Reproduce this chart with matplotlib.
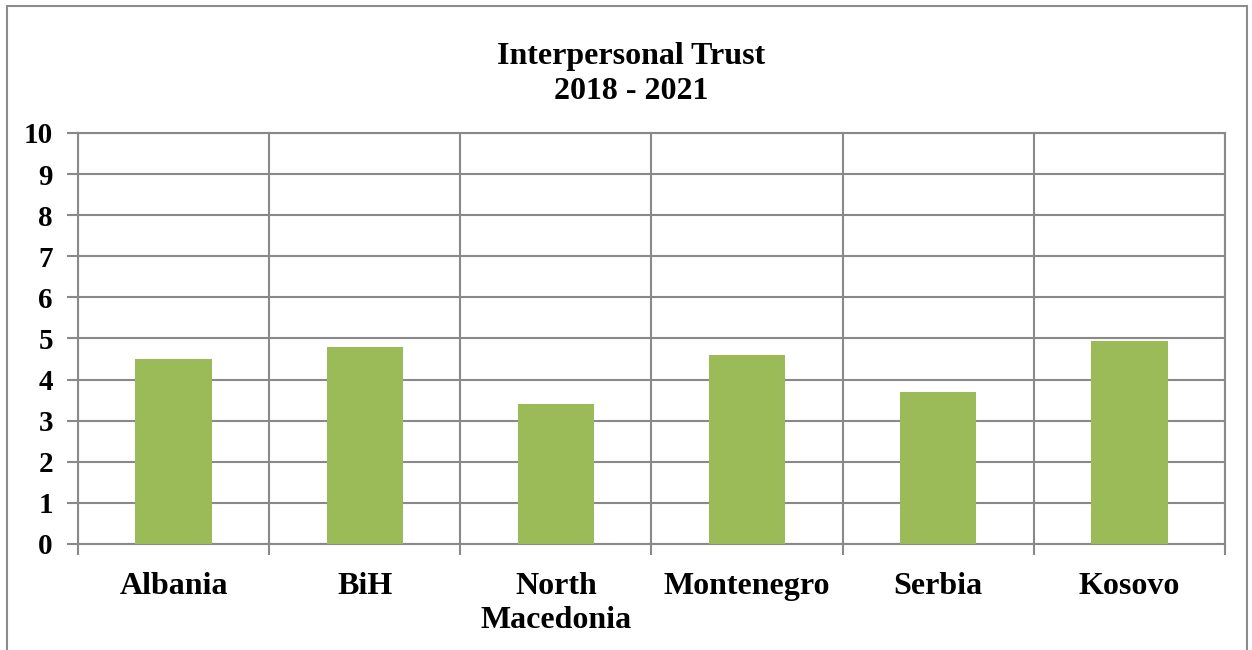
import matplotlib
matplotlib.use('Agg')
import matplotlib.pyplot as plt
from matplotlib.patches import Rectangle

countries = ['Albania', 'BiH', 'North\nMacedonia', 'Montenegro', 'Serbia', 'Kosovo']
trust = [4.5, 4.8, 3.4, 4.6, 3.7, 4.93]

plt.rcParams['font.family'] = ['Liberation Serif', 'DejaVu Serif']
plt.rcParams['font.weight'] = 'bold'

grid_col = '#898989'
bar_col = '#9BBB59'

fig = plt.figure(figsize=(12.52, 6.5), dpi=100)
ax = fig.add_axes([0.0623, 0.1631, 0.9161, 0.6323])

x = list(range(len(countries)))
ax.bar(x, trust, width=0.4, color=bar_col, zorder=3)

ax.set_xlim(-0.5, len(countries) - 0.5)
ax.set_ylim(0, 10)
ax.set_yticks(range(0, 11))
ax.set_yticklabels([str(i) for i in range(0, 11)], fontsize=21, fontweight='bold')
ax.set_xticks(x)
ax.set_xticklabels(countries, fontsize=23, fontweight='bold', linespacing=1.25)
ax.tick_params(axis='x', which='major', length=0, pad=20)
ax.set_xticks([i - 0.5 for i in range(len(countries) + 1)], minor=True)
ax.tick_params(axis='x', which='minor', length=8, width=1.5, color=grid_col, direction='out')
ax.tick_params(axis='y', length=8, width=1.5, color=grid_col, pad=10)

ax.grid(axis='y', which='major', color=grid_col, linewidth=1.5, zorder=0)
ax.grid(axis='x', which='minor', color=grid_col, linewidth=1.5, zorder=0)
for s in ax.spines.values():
    s.set_color(grid_col)
    s.set_linewidth(1.5)

fig.text(0.504, 0.886, 'Interpersonal Trust\n2018 - 2021', ha='center', va='center',
         fontsize=23, fontweight='bold', linespacing=1.25)

fig.patches.append(Rectangle((7 / 1252, -0.01), 1240 / 1252, 1 - 6 / 650 + 0.01,
                             transform=fig.transFigure, fill=False,
                             edgecolor='#8c8c8c', linewidth=1.5))

fig.savefig('out.png', dpi=100)
